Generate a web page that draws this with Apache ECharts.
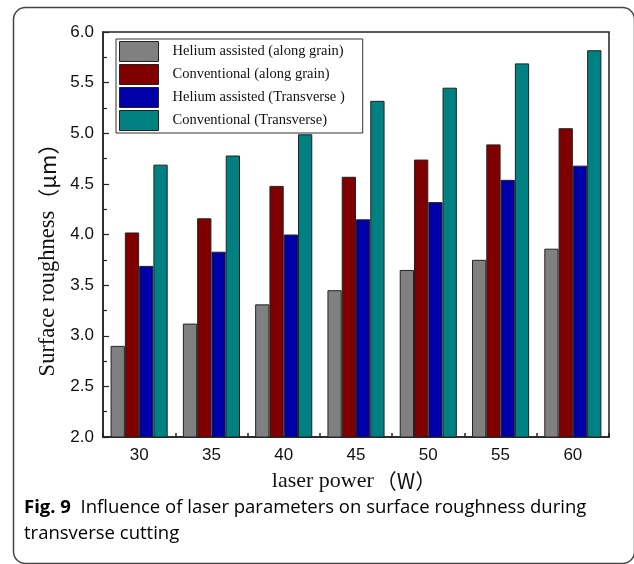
<!DOCTYPE html>
<html>
<head>
<meta charset="utf-8">
<script src="https://cdn.jsdelivr.net/npm/echarts@6/dist/echarts.min.js"></script>
<style>
  html, body { margin: 0; padding: 0; background: #fff; }
  #chart { width: 634px; height: 564px; }
</style>
</head>
<body>
<div id="chart"></div>
<script>
const categories = ['30', '35', '40', '45', '50', '55', '60'];
const seriesNames = [
  'Helium assisted (along grain)',
  'Conventional (along grain)',
  'Helium assisted (Transverse )',
  'Conventional (Transverse)'
];
const heliumAlong = [2.90, 3.12, 3.31, 3.45, 3.65, 3.75, 3.86];
const convAlong = [4.02, 4.16, 4.48, 4.57, 4.74, 4.89, 5.05];
const heliumTrans = [3.69, 3.83, 4.00, 4.15, 4.32, 4.54, 4.68];
const convTrans = [4.69, 4.78, 4.99, 5.32, 5.45, 5.69, 5.82];
const colors = ['#808080', '#800000', '#0000a8', '#008080'];
const yMin = 2.0, yMax = 6.0, yStep = 0.5;

const chart = echarts.init(document.getElementById('chart'), null, { renderer: 'canvas' });
const dataSets = [heliumAlong, convAlong, heliumTrans, convTrans];

const option = {
  animation: false,
  backgroundColor: '#ffffff',
  grid: {
    left: 103, right: 25, top: 32, bottom: 127,
    show: true, borderColor: '#222', borderWidth: 1.5, backgroundColor: 'transparent'
  },
  legend: {
    orient: 'vertical',
    left: 116, top: 39,
    padding: [2, 18, 2, 3],
    itemGap: 2,
    itemWidth: 39,
    itemHeight: 20,
    icon: 'rect',
    borderColor: '#333',
    borderWidth: 1,
    backgroundColor: '#fff',
    itemStyle: { borderColor: '#222', borderWidth: 1 },
    textStyle: {
      fontFamily: 'Liberation Serif', fontSize: 14.5, color: '#111',
      padding: [0, 0, 0, 9]
    },
    data: seriesNames
  },
  xAxis: {
    type: 'category',
    data: categories,
    name: '{a|laser power}{b|（W）}',
    nameLocation: 'middle',
    nameGap: 38,
    nameTextStyle: {
      verticalAlign: 'middle',
      lineHeight: 24,
      rich: {
        a: { fontFamily: 'Liberation Serif', fontSize: 22, color: '#111', lineHeight: 24, verticalAlign: 'middle' },
        b: { fontFamily: 'Noto Sans CJK SC', fontSize: 21, color: '#111', lineHeight: 24, verticalAlign: 'middle', padding: [0, 4, 0, 2] }
      }
    },
    axisLine: { lineStyle: { color: '#222', width: 1.5 } },
    axisTick: { show: true, inside: true, length: 4, interval: 0, alignWithLabel: false, lineStyle: { color: '#222', width: 1.5 } },
    axisLabel: { fontFamily: 'Liberation Sans', fontSize: 17, color: '#111', margin: 10 },
    splitLine: { show: false }
  },
  yAxis: {
    type: 'value',
    min: yMin, max: yMax, interval: yStep,
    name: '{a|Surface roughness}{b|（μm）}',
    nameLocation: 'middle',
    nameGap: 38,
    nameRotate: 90,
    nameTextStyle: {
      rich: {
        a: { fontFamily: 'Liberation Serif', fontSize: 22.5, color: '#111' },
        b: { fontFamily: 'Noto Sans CJK SC', fontSize: 22, color: '#111', padding: [0, 40, 0, 0] }
      }
    },
    axisLine: { show: true, lineStyle: { color: '#222', width: 1.5 } },
    axisTick: { show: true, inside: true, length: 6, lineStyle: { color: '#222', width: 1.2 } },
    minorTick: { show: true, splitNumber: 2, length: 4, lineStyle: { color: '#222', width: 1.2 } },
    axisLabel: {
      fontFamily: 'Liberation Sans', fontSize: 17, color: '#111', margin: 9,
      formatter: v => v.toFixed(1)
    },
    splitLine: { show: false }
  },
  series: seriesNames.map((name, i) => ({
    name: name,
    type: 'bar',
    data: dataSets[i],
    barGap: '0%',
    barCategoryGap: '21%',
    itemStyle: { color: colors[i], borderColor: '#222', borderWidth: 1 }
  })),
  graphic: [
    {
      type: 'rect',
      z: -1,
      silent: true,
      shape: { x: 13.5, y: 7.5, width: 621, height: 556, r: 12 },
      style: { fill: 'none', stroke: '#444', lineWidth: 1.5 }
    },
    {
      type: 'text',
      left: 24,
      top: 498,
      style: {
        text: '{b|Fig. 9}{n|  Influence of laser parameters on surface roughness during}\n{n|transverse cutting}',
        rich: {
          b: { fontFamily: 'Open Sans', fontWeight: 'bold', fontSize: 18.5, color: '#222', lineHeight: 26 },
          n: { fontFamily: 'Open Sans', fontSize: 18.5, color: '#222', lineHeight: 26 }
        }
      }
    }
  ]
};
chart.setOption(option);
</script>
</body>
</html>
